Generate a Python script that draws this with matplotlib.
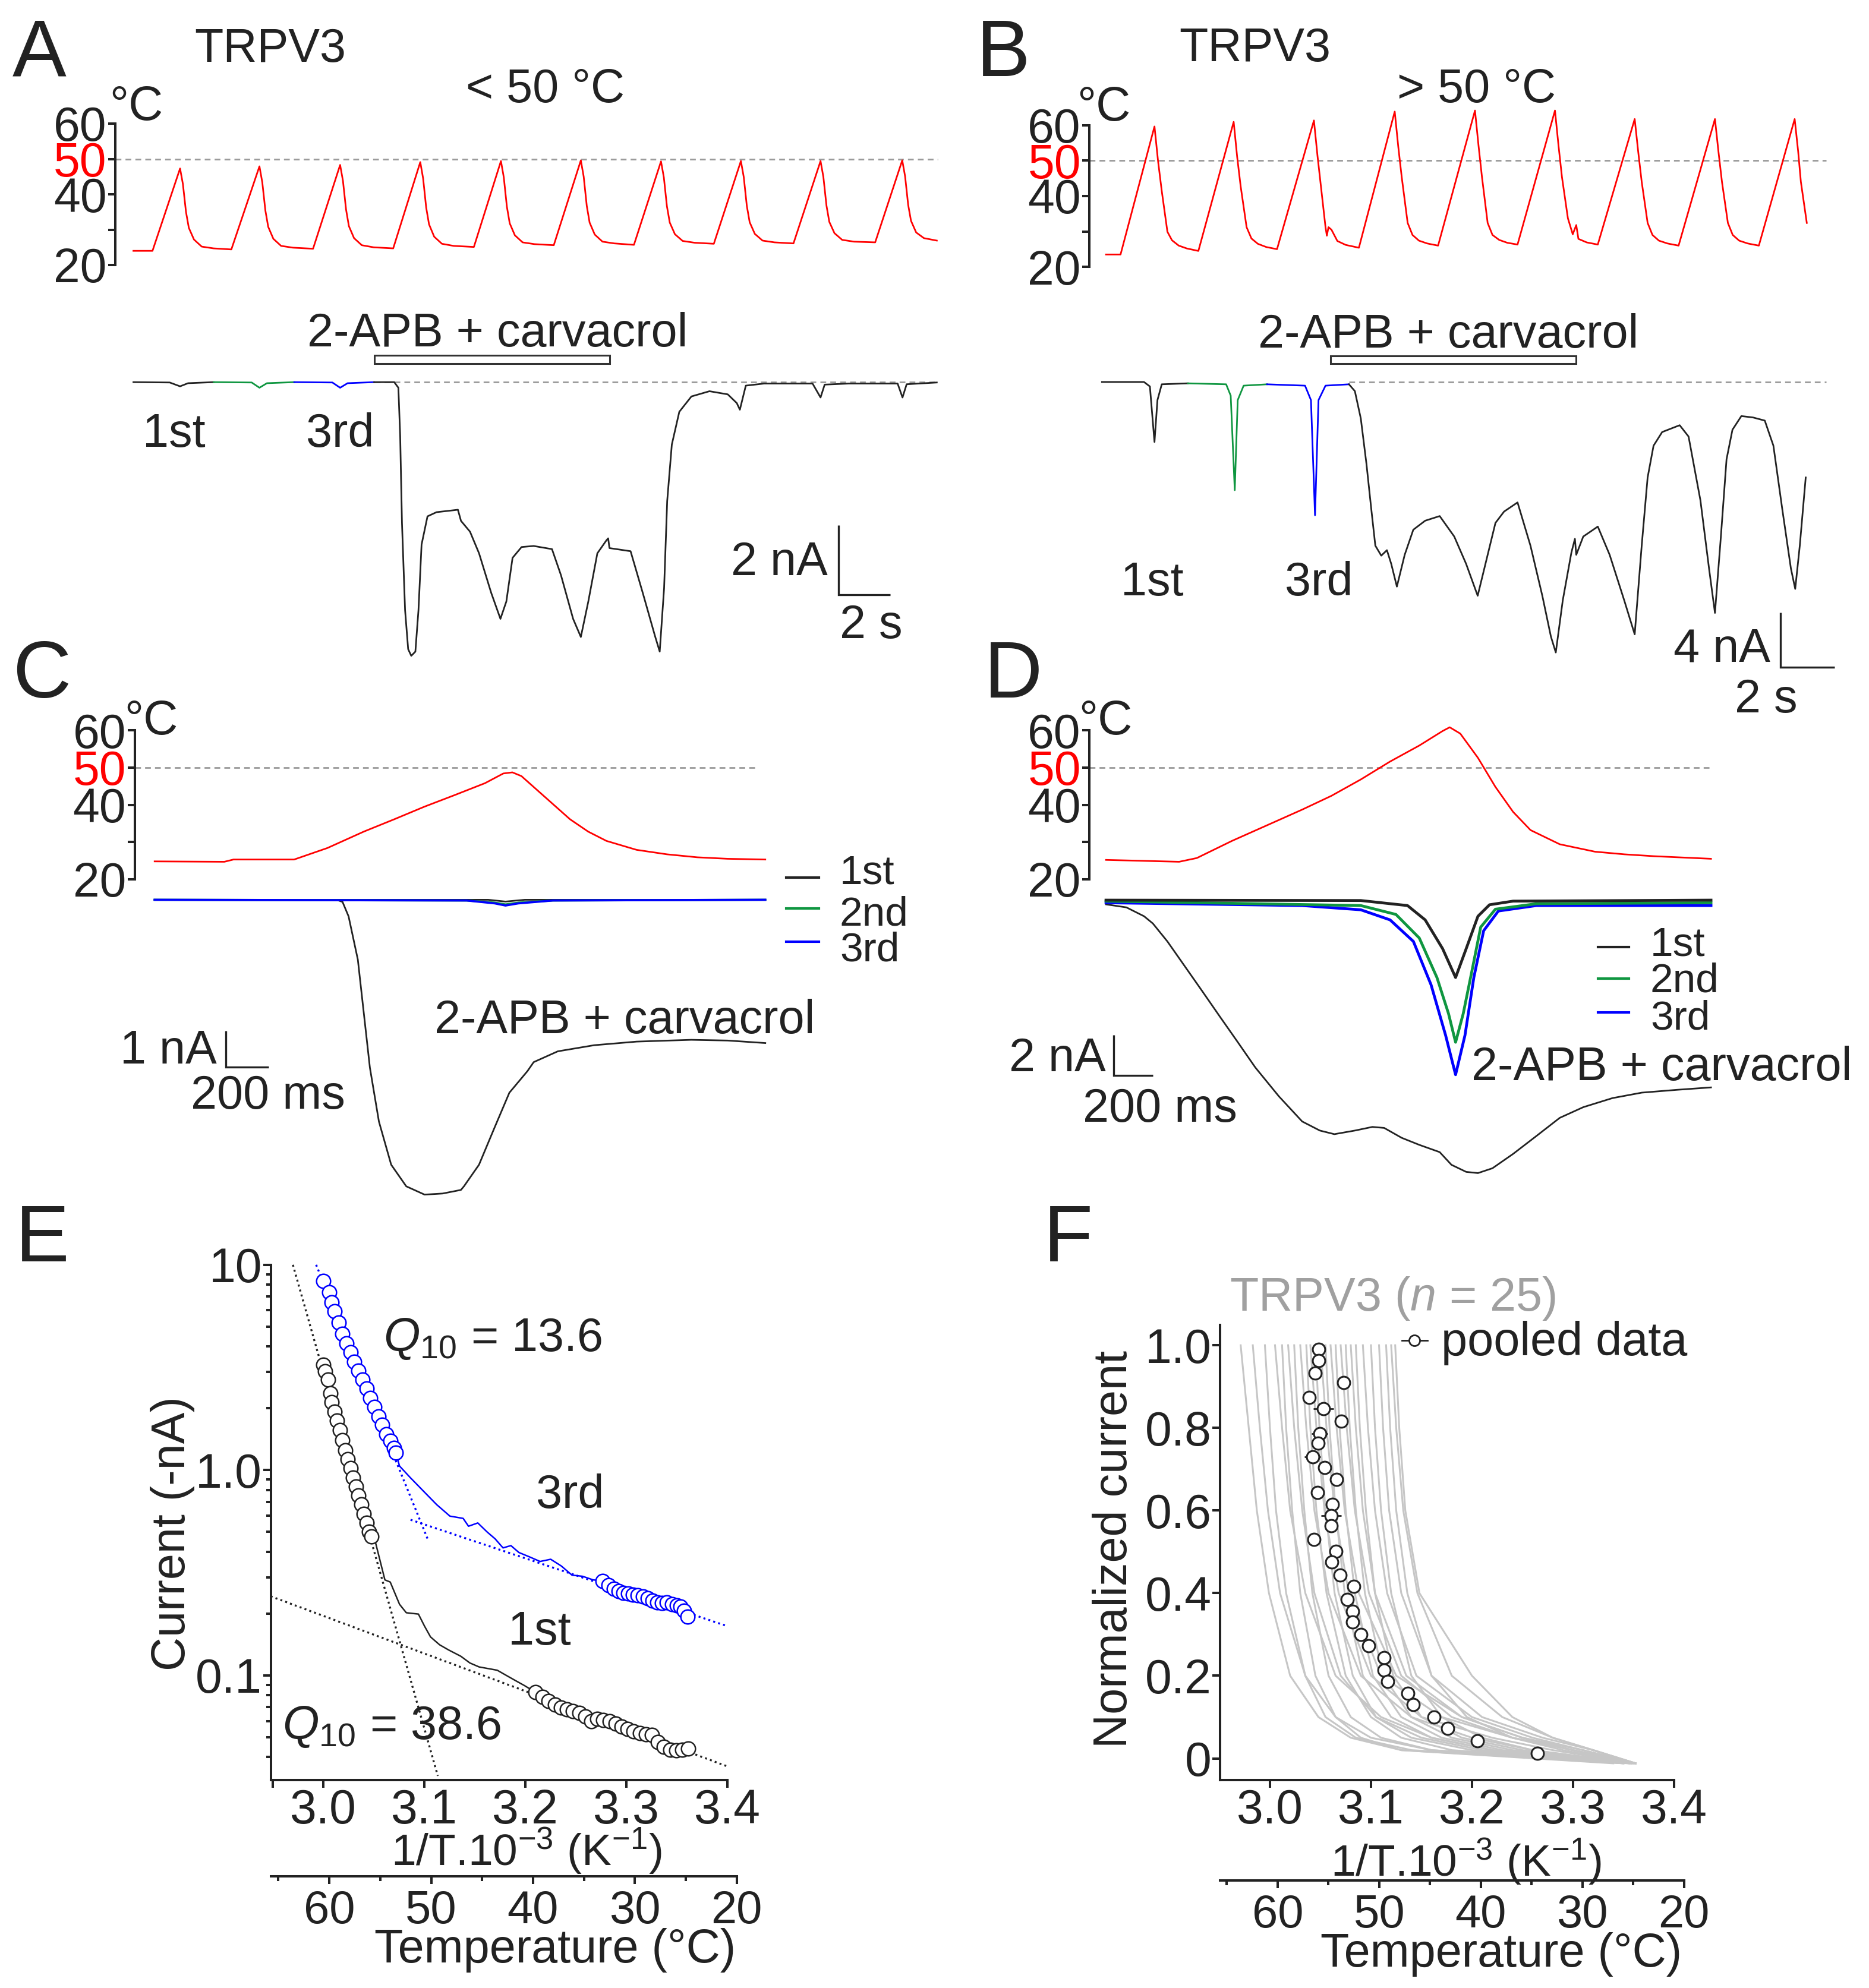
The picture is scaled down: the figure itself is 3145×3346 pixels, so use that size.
import numpy as np
import matplotlib
matplotlib.use("Agg")
import matplotlib.pyplot as plt
from matplotlib.patches import Rectangle
from matplotlib.lines import Line2D
from matplotlib.ticker import LogLocator, NullFormatter, FixedLocator

plt.rcParams['font.family'] = ['Liberation Sans', 'DejaVu Sans']
plt.rcParams['mathtext.fontset'] = 'custom'
plt.rcParams['mathtext.rm'] = 'Liberation Sans'
plt.rcParams['mathtext.it'] = 'Liberation Sans:italic'
plt.rcParams['mathtext.bf'] = 'Liberation Sans:bold'
plt.rcParams['axes.unicode_minus'] = False

# ======================= DATA =======================
# ---- Panel A (time s, temperature degC, current nA) ----
A_temp_t = [0.00, 0.74, 1.81, 1.92, 2.04, 2.15, 2.35, 2.65, 3.11, 3.80,
            4.89, 5.00, 5.12, 5.23, 5.43, 5.73, 6.19, 6.97,
            8.02, 8.13, 8.25, 8.36, 8.56, 8.86, 9.32, 10.08,
            11.13, 11.24, 11.36, 11.47, 11.67, 11.97, 12.43, 13.21,
            14.26, 14.37, 14.49, 14.60, 14.80, 15.10, 15.56, 16.31,
            17.36, 17.47, 17.59, 17.70, 17.90, 18.20, 18.66, 19.42,
            20.47, 20.58, 20.70, 20.81, 21.01, 21.31, 21.77, 22.52,
            23.57, 23.68, 23.80, 23.91, 24.11, 24.41, 24.87, 25.61,
            26.66, 26.77, 26.89, 27.00, 27.20, 27.50, 27.96, 28.78,
            29.83, 29.94, 30.06, 30.17, 30.37, 30.67, 31.17]
A_temp_v = [24.0, 24.0, 47.3, 42.9, 35.0, 30.5, 27.2, 25.2, 24.7, 24.4,
            47.9, 43.4, 35.4, 30.8, 27.4, 25.4, 24.9, 24.6,
            48.3, 43.8, 35.7, 31.0, 27.6, 25.6, 25.0, 24.7,
            49.1, 44.5, 36.2, 31.5, 28.0, 26.0, 25.4, 25.1,
            49.4, 44.8, 36.5, 31.8, 28.4, 26.4, 25.9, 25.6,
            49.6, 45.0, 36.7, 32.0, 28.6, 26.6, 26.1, 25.7,
            49.3, 44.8, 36.6, 32.0, 28.7, 26.8, 26.3, 26.0,
            49.4, 44.9, 36.7, 32.1, 28.8, 26.9, 26.4, 26.1,
            49.4, 44.9, 36.8, 32.2, 29.0, 27.1, 26.6, 26.4,
            49.6, 45.1, 37.0, 32.5, 29.2, 27.6, 26.9]
A_cur_1st_t = [0.00, 1.41, 1.81, 2.12, 3.11]
A_cur_1st_v = [0.00, -0.01, -0.12, -0.03, 0.00]
A_cur_2nd_t = [3.11, 4.59, 4.89, 5.18, 6.24]
A_cur_2nd_v = [0.00, -0.01, -0.16, -0.03, 0.00]
A_cur_3rd_t = [6.24, 7.72, 8.02, 8.31, 9.34]
A_cur_3rd_v = [0.00, -0.01, -0.16, -0.03, 0.00]
A_cur_drug_t = [9.34, 10.12, 10.28, 10.35, 10.42, 10.54, 10.66, 10.78, 10.94, 11.06,
                11.18, 11.41, 11.76, 12.24, 12.59, 12.71, 13.06, 13.41, 13.88, 14.24,
                14.47, 14.71, 15.06, 15.53, 16.24, 16.59, 17.06, 17.36, 17.65, 18.00,
                18.35, 18.42, 18.47, 19.29, 19.76, 20.24, 20.42, 20.59, 20.71, 20.89,
                21.18, 21.65, 22.35, 23.06, 23.41, 23.53, 23.76, 24.47, 26.35, 26.66,
                26.82, 27.76, 29.65, 29.84, 30.00, 31.17]
A_cur_drug_v = [0.00, 0.00, -0.16, -1.54, -4.04, -6.54, -7.66, -7.85, -7.73, -6.54,
                -4.66, -3.85, -3.73, -3.69, -3.66, -3.98, -4.29, -4.91, -6.04, -6.79,
                -6.29, -5.04, -4.73, -4.70, -4.79, -5.54, -6.79, -7.31, -6.29, -4.91,
                -4.54, -4.48, -4.76, -4.85, -6.04, -7.29, -7.73, -5.91, -3.41, -1.79,
                -0.85, -0.41, -0.26, -0.35, -0.60, -0.79, -0.10, -0.04, -0.04, -0.44,
                -0.07, -0.04, -0.04, -0.44, -0.06, -0.01]
A_drug = (9.36, 18.47)

# ---- Panel B ----
B_temp_t = [0.00, 0.54, 1.80, 1.93, 2.07, 2.28, 2.45, 2.70, 3.00, 3.43,
            4.74, 4.87, 5.00, 5.22, 5.40, 5.64, 5.95, 6.35,
            7.72, 7.85, 7.98, 8.15, 8.20, 8.26, 8.37, 8.59, 8.90, 9.39,
            10.72, 10.85, 10.98, 11.20, 11.38, 11.62, 11.93, 12.33,
            13.70, 13.83, 13.96, 14.17, 14.35, 14.60, 14.90, 15.28,
            16.67, 16.80, 16.93, 17.15, 17.33, 17.46, 17.54, 17.85, 18.26,
            19.63, 19.76, 19.89, 20.11, 20.29, 20.53, 20.85, 21.26,
            22.61, 22.74, 22.87, 23.09, 23.27, 23.51, 23.83, 24.24,
            25.57, 25.70, 25.80, 26.02]
B_temp_v = [23.5, 23.5, 59.6, 50.0, 41.4, 29.9, 27.5, 26.0, 25.2, 24.5,
            60.9, 51.0, 42.7, 31.2, 28.0, 26.5, 25.6, 25.0,
            61.3, 51.5, 42.7, 31.2, 28.8, 31.2, 30.5, 27.3, 26.2, 25.4,
            63.8, 54.0, 45.3, 32.4, 29.0, 27.4, 26.6, 26.0,
            64.1, 54.3, 45.3, 32.4, 29.0, 27.6, 26.8, 26.3,
            64.1, 54.3, 45.3, 33.7, 29.2, 31.8, 27.9, 26.9, 26.3,
            61.7, 52.5, 44.0, 32.4, 29.0, 27.4, 26.6, 26.0,
            61.7, 52.5, 44.0, 32.4, 29.0, 27.4, 26.6, 26.0,
            61.7, 52.5, 44.0, 32.4]
B_cur_1st_t = [-0.15, 1.41, 1.63, 1.80, 1.91, 2.07, 3.04]
B_cur_1st_v = [0.00, 0.00, -0.33, -4.40, -1.33, -0.17, -0.10]
B_cur_2nd_t = [3.04, 4.46, 4.63, 4.78, 4.89, 5.11, 5.98]
B_cur_2nd_v = [-0.10, -0.17, -1.00, -7.93, -1.33, -0.27, -0.17]
B_cur_3rd_t = [5.98, 7.39, 7.61, 7.76, 7.89, 8.15, 9.02]
B_cur_3rd_v = [-0.17, -0.27, -1.33, -9.77, -1.33, -0.27, -0.17]
B_cur_drug_t = [9.02, 9.24, 9.46, 9.67, 9.85, 10.00, 10.22, 10.43, 10.59, 10.80,
                11.09, 11.41, 11.85, 12.39, 12.93, 13.37, 13.80, 14.13, 14.46, 14.78, 15.28,
                15.76, 16.20, 16.52, 16.70, 16.96, 17.28, 17.41, 17.46, 17.72, 18.26,
                18.70, 19.24, 19.63, 19.89, 20.11, 20.33, 20.65, 21.30, 21.63, 22.07,
                22.39, 22.61, 22.83, 23.04, 23.26, 23.59, 24.02, 24.46, 24.78, 25.11,
                25.43, 25.59, 25.76, 25.98]
B_cur_drug_v = [-0.17, -0.67, -2.67, -6.00, -9.33, -12.00, -12.73, -12.33, -13.33, -15.00,
                -12.67, -10.83, -10.17, -9.83, -11.33, -13.33, -15.67, -13.00, -10.33, -9.50, -8.83,
                -12.00, -15.67, -18.67, -19.83, -16.00, -12.50, -11.50, -12.67, -11.33, -10.60,
                -12.67, -16.00, -18.50, -12.00, -7.00, -4.67, -3.67, -3.17, -4.00, -8.67,
                -13.67, -16.93, -11.33, -5.67, -3.50, -2.50, -2.60, -2.83, -4.67, -9.33,
                -13.67, -15.17, -12.00, -7.00]
B_drug = (8.33, 17.46)

# ---- Panel C ----
C_temp_t = [0.000, 0.324, 0.366, 0.648, 0.803, 0.972, 1.113, 1.254, 1.394, 1.535, 1.620,
            1.662, 1.704, 1.817, 1.930, 2.014, 2.099, 2.239, 2.380, 2.521, 2.662, 2.837]
C_temp_v = [24.8, 24.7, 25.3, 25.3, 28.4, 32.8, 36.1, 39.5, 42.6, 45.8, 48.4,
            48.7, 47.7, 41.9, 36.1, 32.8, 30.3, 27.9, 26.7, 25.9, 25.5, 25.3]
C_cur_1st_t = [0.00, 1.55, 1.63, 1.72, 2.837]
C_cur_1st_v = [0.00, 0.00, -0.05, 0.00, 0.00]
C_cur_2nd_t = [0.00, 1.45, 1.58, 1.63, 1.69, 1.85, 2.837]
C_cur_2nd_v = [0.00, -0.02, -0.08, -0.13, -0.08, -0.02, 0.00]
C_cur_3rd_t = [0.00, 1.45, 1.58, 1.63, 1.69, 1.85, 2.837]
C_cur_3rd_v = [0.00, -0.02, -0.10, -0.16, -0.10, -0.02, 0.00]
C_cur_drug_t = [0.000, 0.845, 0.873, 0.901, 0.944, 0.972, 1.000, 1.042, 1.099, 1.169, 1.254,
                1.338, 1.423, 1.437, 1.507, 1.577, 1.648, 1.732, 1.761, 1.873, 2.042,
                2.239, 2.493, 2.662, 2.837]
C_cur_drug_v = [0.00, 0.00, -0.06, -0.46, -1.66, -3.16, -4.66, -6.16, -7.36, -7.96, -8.19,
                -8.16, -8.06, -7.96, -7.36, -6.36, -5.36, -4.76, -4.51, -4.21, -4.04,
                -3.94, -3.89, -3.91, -3.98]

# ---- Panel D ----
D_temp_t = [0.000, 0.373, 0.463, 0.642, 0.851, 1.000, 1.149, 1.299, 1.448, 1.597, 1.716,
            1.752, 1.806, 1.896, 1.985, 2.075, 2.164, 2.313, 2.493, 2.642, 2.791, 3.084]
D_temp_v = [25.2, 24.7, 25.7, 30.3, 35.2, 38.7, 42.4, 46.8, 51.6, 55.9, 59.8,
            60.8, 59.1, 52.6, 44.8, 38.1, 33.2, 29.4, 27.4, 26.7, 26.2, 25.5]
D_cur_1st_t = [0.000, 1.299, 1.537, 1.627, 1.716, 1.782, 1.836, 1.896, 1.955, 2.075, 3.084]
D_cur_1st_v = [0.00, -0.02, -0.27, -0.98, -2.41, -3.84, -2.41, -0.80, -0.23, -0.05, 0.00]
D_cur_2nd_t = [0.000, 1.299, 1.478, 1.597, 1.687, 1.746, 1.782, 1.821, 1.866, 1.910, 1.985, 2.194, 3.084]
D_cur_2nd_v = [-0.05, -0.27, -0.71, -1.88, -3.84, -5.63, -7.05, -5.63, -3.48, -1.34, -0.45, -0.18, -0.13]
D_cur_3rd_t = [0.000, 1.000, 1.299, 1.448, 1.567, 1.657, 1.731, 1.782, 1.830, 1.875, 1.925, 2.000, 2.194, 3.084]
D_cur_3rd_v = [-0.13, -0.27, -0.48, -0.98, -2.05, -4.20, -6.70, -8.66, -6.70, -3.84, -1.52, -0.54, -0.27, -0.27]
D_cur_drug_t = [0.000, 0.104, 0.194, 0.239, 0.313, 0.403, 0.493, 0.582, 0.672, 0.761,
                0.881, 1.000, 1.090, 1.164, 1.269, 1.358, 1.418, 1.507, 1.597, 1.701,
                1.761, 1.836, 1.896, 1.970, 2.075, 2.194, 2.313, 2.433, 2.582, 2.731,
                2.910, 3.084]
D_cur_drug_v = [-0.21, -0.36, -0.80, -1.16, -2.05, -3.30, -4.55, -5.80, -7.05, -8.30,
                -9.73, -10.98, -11.43, -11.61, -11.43, -11.25, -11.30, -11.79, -12.14, -12.50,
                -13.13, -13.48, -13.54, -13.30, -12.59, -11.70, -10.80, -10.27, -9.82, -9.55,
                -9.41, -9.29]

# ---- Panel E (x = 1/T*10^3, y = -current nA) ----
E_1st_hot_x = [3.0000, 3.0020, 3.0046, 3.0073, 3.0086, 3.0112, 3.0139, 3.0165, 3.0191, 3.0217,
               3.0244, 3.0270, 3.0296, 3.0323, 3.0348, 3.0375, 3.0401, 3.0428, 3.0453, 3.0480]
E_1st_hot_y = [3.26, 3.02, 2.76, 2.37, 2.14, 1.93, 1.74, 1.57, 1.40, 1.25,
               1.13, 1.02, 0.921, 0.832, 0.751, 0.679, 0.613, 0.553, 0.500, 0.475]
E_1st_mid_x = [3.0480, 3.0520, 3.0611, 3.0664, 3.0756, 3.0823, 3.0943, 3.1003, 3.1063, 3.1153,
               3.1243, 3.1363, 3.1453, 3.1544, 3.1634, 3.1724, 3.1814, 3.1904, 3.1994, 3.2102]
E_1st_mid_y = [0.475, 0.440, 0.292, 0.285, 0.222, 0.202, 0.199, 0.174, 0.154, 0.141,
               0.133, 0.124, 0.115, 0.110, 0.108, 0.106, 0.100, 0.0944, 0.0892, 0.0828]
E_1st_cold_x = [3.2102, 3.2174, 3.2234, 3.2294, 3.2354, 3.2414, 3.2474, 3.2535, 3.2595, 3.2655,
                3.2715, 3.2775, 3.2835, 3.2895, 3.2955, 3.3015, 3.3075, 3.3135, 3.3195, 3.3255,
                3.3315, 3.3375, 3.3435, 3.3495, 3.3556, 3.3616]
E_1st_cold_y = [0.0828, 0.0786, 0.0751, 0.0722, 0.0697, 0.0682, 0.0670, 0.0659, 0.0633, 0.0598,
                0.0615, 0.0608, 0.0598, 0.0581, 0.0564, 0.0548, 0.0536, 0.0524, 0.0518, 0.0512,
                0.0475, 0.0449, 0.0436, 0.0431, 0.0436, 0.0441]
E_3rd_hot_x = [3.0000, 3.0060, 3.0086, 3.0112, 3.0151, 3.0191, 3.0231, 3.0270, 3.0309, 3.0348,
               3.0388, 3.0428, 3.0467, 3.0506, 3.0546, 3.0585, 3.0625, 3.0664, 3.0703, 3.0717]
E_3rd_hot_y = [8.37, 7.37, 6.57, 5.93, 5.22, 4.60, 4.15, 3.75, 3.38, 3.06,
               2.76, 2.49, 2.25, 2.03, 1.83, 1.66, 1.50, 1.39, 1.28, 1.22]
E_3rd_mid_x = [3.0717, 3.0756, 3.0861, 3.0992, 3.1124, 3.1255, 3.1386, 3.1439, 3.1531, 3.1623, 3.1702,
               3.1781, 3.1859, 3.1938, 3.2043, 3.2148, 3.2253, 3.2359, 3.2464, 3.2569, 3.2674, 3.2766]
E_3rd_mid_y = [1.22, 1.047, 0.921, 0.791, 0.679, 0.597, 0.582, 0.533, 0.553, 0.500, 0.463,
               0.418, 0.429, 0.397, 0.378, 0.359, 0.368, 0.341, 0.308, 0.304, 0.292, 0.289]
E_3rd_cold_x = [3.2766, 3.2823, 3.2877, 3.2925, 3.2973, 3.3021, 3.3069, 3.3117, 3.3165, 3.3213,
                3.3261, 3.3309, 3.3357, 3.3405, 3.3453, 3.3502, 3.3538, 3.3574, 3.3610]
E_3rd_cold_y = [0.288, 0.275, 0.265, 0.257, 0.253, 0.250, 0.247, 0.245, 0.243, 0.238,
                0.232, 0.227, 0.225, 0.227, 0.223, 0.220, 0.216, 0.207, 0.193]
E_fit_1st_steep = ([2.970, 3.1135], [10.0, 0.0324])
E_fit_1st_shallow = ([2.948, 3.400], [0.243, 0.0361])
E_fit_3rd_steep = ([2.993, 3.104], [10.0, 0.455])
E_fit_3rd_shallow = ([3.0865, 3.400], [0.573, 0.174])

# ---- Panel F ----
F_levels = [1.0, 0.8, 0.6, 0.4, 0.2, 0.1, 0.05, 0.02, -0.012]
F_cells = [
    [2.971, 2.979, 2.987, 2.999, 3.020, 3.048, 3.080, 3.130, 3.355],
    [2.983, 2.990, 2.998, 3.010, 3.035, 3.065, 3.100, 3.160, 3.360],
    [2.995, 3.000, 3.006, 3.016, 3.035, 3.055, 3.085, 3.140, 3.350],
    [3.005, 3.012, 3.020, 3.035, 3.065, 3.110, 3.160, 3.220, 3.362],
    [3.012, 3.016, 3.022, 3.030, 3.045, 3.065, 3.090, 3.130, 3.340],
    [3.018, 3.024, 3.032, 3.044, 3.070, 3.105, 3.150, 3.210, 3.360],
    [3.024, 3.028, 3.034, 3.042, 3.058, 3.080, 3.110, 3.160, 3.350],
    [3.030, 3.036, 3.044, 3.058, 3.090, 3.140, 3.200, 3.260, 3.362],
    [3.036, 3.040, 3.046, 3.056, 3.075, 3.100, 3.130, 3.180, 3.358],
    [3.040, 3.046, 3.054, 3.068, 3.100, 3.150, 3.220, 3.280, 3.362],
    [3.045, 3.049, 3.055, 3.064, 3.082, 3.105, 3.140, 3.200, 3.350],
    [3.050, 3.056, 3.064, 3.078, 3.110, 3.170, 3.240, 3.300, 3.362],
    [3.055, 3.059, 3.065, 3.074, 3.092, 3.120, 3.160, 3.220, 3.358],
    [3.060, 3.066, 3.074, 3.088, 3.125, 3.190, 3.250, 3.300, 3.362],
    [3.065, 3.069, 3.075, 3.084, 3.102, 3.130, 3.170, 3.230, 3.356],
    [3.070, 3.076, 3.084, 3.098, 3.130, 3.180, 3.240, 3.300, 3.362],
    [3.075, 3.079, 3.085, 3.094, 3.112, 3.140, 3.180, 3.240, 3.358],
    [3.080, 3.085, 3.092, 3.104, 3.135, 3.190, 3.250, 3.310, 3.362],
    [3.085, 3.089, 3.095, 3.104, 3.122, 3.150, 3.190, 3.250, 3.356],
    [3.092, 3.097, 3.104, 3.116, 3.145, 3.200, 3.260, 3.310, 3.362],
    [3.100, 3.104, 3.110, 3.120, 3.140, 3.170, 3.210, 3.260, 3.358],
    [3.108, 3.112, 3.118, 3.130, 3.160, 3.210, 3.270, 3.320, 3.362],
    [3.115, 3.119, 3.125, 3.136, 3.160, 3.195, 3.240, 3.290, 3.360],
    [3.120, 3.125, 3.132, 3.146, 3.180, 3.230, 3.280, 3.320, 3.362],
    [3.124, 3.128, 3.134, 3.148, 3.200, 3.240, 3.280, 3.320, 3.362],
]
F_pool_x = [3.0481, 3.0481, 3.0446, 3.0730, 3.0388, 3.0528, 3.0707, 3.0493, 3.0475, 3.0423,
            3.0539, 3.0661, 3.0470, 3.0620, 3.0609, 3.0609, 3.0435, 3.0655, 3.0614, 3.0696,
            3.0829, 3.0765, 3.0817, 3.0817, 3.0899, 3.0974, 3.1130, 3.1130, 3.1165, 3.1368,
            3.1420, 3.1623, 3.1762, 3.2052, 3.2649]
F_pool_y = [0.990, 0.963, 0.932, 0.909, 0.873, 0.847, 0.816, 0.786, 0.763, 0.730,
            0.704, 0.675, 0.643, 0.615, 0.588, 0.563, 0.530, 0.501, 0.475, 0.444,
            0.416, 0.385, 0.356, 0.330, 0.300, 0.272, 0.244, 0.214, 0.186, 0.158,
            0.130, 0.100, 0.072, 0.043, 0.012]
F_pool_xerr = [0.003, 0.003, 0.004, 0.003, 0.005, 0.010, 0.003, 0.008, 0.006, 0.008,
               0.006, 0.003, 0.006, 0.005, 0.010, 0.005, 0.003, 0.004, 0.004, 0.004,
               0.003, 0.003, 0.003, 0.003, 0.003, 0.003, 0.003, 0.003, 0.003, 0.003,
               0.003, 0.003, 0.003, 0.003, 0.003]

# ======================= STYLE / LAYOUT =======================
W, H = 3145, 3346
fig = plt.figure(figsize=(W / 100, H / 100), dpi=100)
fig.patch.set_facecolor('white')

TXT = '#222222'
RED = '#ff0000'
GREEN = '#0f9640'
BLUE = '#0000ff'
DASH = '#9a9a9a'
GREYF = '#c6c6c6'
FS = 57
FS_TICK = 58
FS_LEG = 50
FS_LET = 98
FS_XLAB = 54
LW_AX = 2.9
LW_TR = 2.0
LW_SB = 2.4


def add_axes_px(l, t, r, b):
    return fig.add_axes([l / W, 1 - b / H, (r - l) / W, (b - t) / H])


def ftext(x, y, s, size=FS, ha='left', va='baseline', color=TXT, **kw):
    return fig.text(x / W, 1 - y / H, s, size=size, ha=ha, va=va, color=color, **kw)


def fline(xs, ys, **kw):
    fig.add_artist(Line2D([x / W for x in xs], [1 - y / H for y in ys],
                          transform=fig.transFigure, **kw))


def lin_axes(x0, xs, xlim, yref_px, ys, yref, ylim):
    l = x0 + xs * xlim[0]
    r = x0 + xs * xlim[1]
    t = yref_px - ys * (ylim[1] - yref)
    b = yref_px - ys * (ylim[0] - yref)
    ax = add_axes_px(l, t, r, b)
    ax.set_xlim(xlim)
    ax.set_ylim(ylim)
    ax.patch.set_visible(False)
    return ax


def temp_axes(x0, xs, xlim, y20, ys, ylim, t, v, dash_end):
    ax = lin_axes(x0, xs, xlim, y20, ys, 20, ylim)
    for s in ('top', 'right', 'bottom'):
        ax.spines[s].set_visible(False)
    ax.spines['left'].set_bounds(20, 60)
    ax.spines['left'].set_linewidth(LW_AX)
    ax.spines['left'].set_color(TXT)
    ax.set_xticks([])
    ax.set_yticks([20, 30, 40, 50, 60])
    ax.set_yticklabels(['20', '', '40', '50', '60'])
    ax.tick_params(axis='y', direction='out', length=9, width=LW_AX, labelsize=FS_TICK,
                   pad=1.5, colors=TXT)
    ax.get_yticklabels()[3].set_color(RED)
    ax.plot([xlim[0], dash_end], [50, 50], color=DASH, lw=2.0, dashes=(3.5, 2.5))
    ax.plot(t, v, color=RED, lw=LW_TR, clip_on=False)
    return ax


def cur_axes(x0, xs, xlim, i0, is_, ylim):
    ax = lin_axes(x0, xs, xlim, i0, is_, 0, ylim)
    ax.axis('off')
    return ax


def scalebar(ax, t, i_top, i_bot, dt):
    ax.plot([t, t, t + dt], [i_top, i_bot, i_bot], color=TXT, lw=LW_SB, clip_on=False,
            solid_joinstyle='miter', solid_capstyle='butt')


# ======================= PANEL A =======================
A_X0, A_XS, A_XLIM = 224.5, 43.37, (-0.70, 31.3)
temp_axes(A_X0, A_XS, A_XLIM, 446.0, 5.95, (20, 60), A_temp_t, A_temp_v, 31.2)
axAc = cur_axes(A_X0, A_XS, A_XLIM, 643.2, 58.67, (-8.2, 0.9))
axAc.plot([9.34, 31.2], [0, 0], color=DASH, lw=2.0, dashes=(3.5, 2.5))
axAc.plot(A_cur_1st_t, A_cur_1st_v, color=TXT, lw=LW_TR)
axAc.plot(A_cur_2nd_t, A_cur_2nd_v, color=GREEN, lw=LW_TR)
axAc.plot(A_cur_3rd_t, A_cur_3rd_v, color=BLUE, lw=LW_TR)
axAc.plot(A_cur_drug_t, A_cur_drug_v, color=TXT, lw=LW_TR)
axAc.add_patch(Rectangle((A_drug[0], 0.53), A_drug[1] - A_drug[0], 0.24, fc='white',
                         ec='#333333', lw=2.2, clip_on=False))
scalebar(axAc, 27.36, -4.1, -6.1, 2.0)

ftext(21, 128, 'A', size=FS_LET)
ftext(327, 104, 'TRPV3')
ftext(784, 172, '< 50 °C')
ftext(184, 202, '°C', size=FS_TICK)
ftext(837, 583, '2-APB + carvacrol', ha='center')
ftext(240, 752, '1st')
ftext(515, 752, '3rd')
ftext(1393, 968, '2 nA', ha='right')
ftext(1413, 1074, '2 s')

# ======================= PANEL B =======================
B_X0, B_XS, B_XLIM = 1861.1, 45.32, (-0.61, 26.8)
temp_axes(B_X0, B_XS, B_XLIM, 449.2, 5.9675, (20, 66), B_temp_t, B_temp_v, 26.74)
axBc = cur_axes(B_X0, B_XS, B_XLIM, 642.9, 22.96, (-21.5, 2.2))
axBc.plot([9.02, 26.74], [0, 0], color=DASH, lw=2.0, dashes=(3.5, 2.5))
axBc.plot(B_cur_1st_t, B_cur_1st_v, color=TXT, lw=LW_TR)
axBc.plot(B_cur_2nd_t, B_cur_2nd_v, color=GREEN, lw=LW_TR)
axBc.plot(B_cur_3rd_t, B_cur_3rd_v, color=BLUE, lw=LW_TR)
axBc.plot(B_cur_drug_t, B_cur_drug_v, color=TXT, lw=LW_TR)
axBc.add_patch(Rectangle((B_drug[0], 1.33), B_drug[1] - B_drug[0], 0.60, fc='white',
                         ec='#333333', lw=2.2, clip_on=False))
scalebar(axBc, 25.05, -16.9, -20.9, 2.0)

ftext(1643, 128, 'B', size=FS_LET)
ftext(1984, 103, 'TRPV3')
ftext(2351, 172, '> 50 °C')
ftext(1812, 203, '°C', size=FS_TICK)
ftext(2437, 585, '2-APB + carvacrol', ha='center')
ftext(1886, 1002, '1st')
ftext(2162, 1002, '3rd')
ftext(2979, 1113, '4 nA', ha='right')
ftext(2919, 1199, '2 s')

# ======================= PANEL C =======================
C_X0, C_XS, C_XLIM = 260.2, 362.2, (-0.093, 2.86)
temp_axes(C_X0, C_XS, C_XLIM, 1479.9, 6.27, (20, 60), C_temp_t, C_temp_v, 2.80)
axCc = cur_axes(C_X0, C_XS, C_XLIM, 1514.4, 60.59, (-8.6, 0.4))
axCc.plot(C_cur_drug_t, C_cur_drug_v, color=TXT, lw=LW_TR)
axCc.plot(C_cur_1st_t, C_cur_1st_v, color=TXT, lw=LW_TR)
axCc.plot(C_cur_2nd_t, C_cur_2nd_v, color=GREEN, lw=LW_TR + 0.6)
axCc.plot(C_cur_3rd_t, C_cur_3rd_v, color=BLUE, lw=LW_TR + 0.6)
scalebar(axCc, 0.33, -3.64, -4.64, 0.2)

ftext(21, 1174, 'C', size=FS_LET)
ftext(209, 1236, '°C', size=FS_TICK)
ftext(1051, 1739, '2-APB + carvacrol', ha='center')
ftext(365, 1790, '1 nA', ha='right')
ftext(321, 1866, '200 ms')
for yl, yt, lab, col in [(1477, 1488, '1st', TXT), (1529, 1557, '2nd', GREEN),
                         (1585, 1618, '3rd', BLUE)]:
    fline([1323, 1378], [yl, yl], color=col, lw=3.0)
    ftext(1413, yt, lab, size=FS_LEG)

# ======================= PANEL D =======================
D_X0, D_XS, D_XLIM = 1861.1, 330.1, (-0.084, 3.1)
temp_axes(D_X0, D_XS, D_XLIM, 1479.9, 6.27, (20, 62), D_temp_t, D_temp_v, 3.084)
axDc = cur_axes(D_X0, D_XS, D_XLIM, 1515.0, 33.93, (-14.2, 0.4))
axDc.plot(D_cur_drug_t, D_cur_drug_v, color=TXT, lw=LW_TR)
axDc.plot(D_cur_3rd_t, D_cur_3rd_v, color=BLUE, lw=LW_TR + 1.4)
axDc.plot(D_cur_2nd_t, D_cur_2nd_v, color=GREEN, lw=LW_TR + 1.4)
axDc.plot(D_cur_1st_t, D_cur_1st_v, color=TXT, lw=LW_TR + 1.4)
scalebar(axDc, 0.039, -6.70, -8.70, 0.2)

ftext(1656, 1174, 'D', size=FS_LET)
ftext(1815, 1236, '°C', size=FS_TICK)
ftext(2796, 1818, '2-APB + carvacrol', ha='center')
ftext(1861, 1803, '2 nA', ha='right')
ftext(1822, 1888, '200 ms')
for yl, yt, lab, col in [(1594, 1609, '1st', TXT), (1647, 1669, '2nd', GREEN),
                         (1704, 1733, '3rd', BLUE)]:
    fline([2689, 2741], [yl, yl], color=col, lw=3.0)
    ftext(2777, yt, lab, size=FS_LEG)


# ======================= PANEL E =======================
def style_main(ax):
    for s in ('top', 'right'):
        ax.spines[s].set_visible(False)
    for s in ('left', 'bottom'):
        ax.spines[s].set_linewidth(LW_AX)
        ax.spines[s].set_color(TXT)
    ax.tick_params(which='both', direction='out', width=LW_AX, colors=TXT,
                   labelsize=FS_TICK)
    ax.tick_params(which='major', length=9.5, pad=1)
    ax.tick_params(which='minor', length=6)
    ax.patch.set_visible(False)


def temp_secondary(l, y, r, xlim):
    ax = add_axes_px(l, y - 1, r, y)
    ax.set_xlim(xlim)
    ax.set_ylim(0, 1)
    for s in ('top', 'right', 'left'):
        ax.spines[s].set_visible(False)
    ax.spines['bottom'].set_linewidth(LW_AX)
    ax.spines['bottom'].set_color(TXT)
    ax.set_yticks([])
    ax.set_xticks([60, 50, 40, 30, 20])
    ax.set_xticklabels(['60', '50', '40', '30', '20'])
    ax.xaxis.set_minor_locator(FixedLocator([65, 55, 45, 35, 25]))
    ax.tick_params(which='both', direction='out', width=LW_AX, colors=TXT, labelsize=FS_TICK - 2)
    ax.tick_params(which='major', length=9.5, pad=6)
    ax.tick_params(which='minor', length=6)
    ax.patch.set_visible(False)
    return ax


axE = add_axes_px(455.5, 2128.8, 1223.5, 2995.7)
axE.set_yscale('log')
axE.set_xlim(2.948, 3.4)
axE.set_ylim(0.031, 10)
style_main(axE)
axE.set_xticks([2.95, 3.0, 3.1, 3.2, 3.3, 3.4])
axE.set_xticklabels(['', '3.0', '3.1', '3.2', '3.3', '3.4'])
axE.set_yticks([0.1, 1.0, 10.0])
axE.set_yticklabels(['0.1', '1.0', '10'])
axE.yaxis.set_minor_locator(LogLocator(base=10, subs=np.arange(2, 10)))
axE.yaxis.set_minor_formatter(NullFormatter())

axE.plot(*E_fit_1st_steep, color=TXT, lw=2.4, dashes=(1.0, 1.6), clip_on=False)
axE.plot(*E_fit_1st_shallow, color=TXT, lw=2.4, dashes=(1.0, 1.6), clip_on=False)
axE.plot(*E_fit_3rd_steep, color=BLUE, lw=2.4, dashes=(1.0, 1.6), clip_on=False)
axE.plot(*E_fit_3rd_shallow, color=BLUE, lw=2.4, dashes=(1.0, 1.6), clip_on=False)

for col, hx, hy, mx, my, cx, cy in [
        (TXT, E_1st_hot_x, E_1st_hot_y, E_1st_mid_x, E_1st_mid_y, E_1st_cold_x, E_1st_cold_y),
        (BLUE, E_3rd_hot_x, E_3rd_hot_y, E_3rd_mid_x, E_3rd_mid_y, E_3rd_cold_x, E_3rd_cold_y)]:
    axE.plot(hx + mx + cx, hy + my + cy, color=col, lw=1.8)
    axE.plot(hx, hy, 'o', ms=17, mfc='white', mec=col, mew=1.8)
    axE.plot(cx, cy, 'o', ms=17, mfc='white', mec=col, mew=1.8)

temp_secondary(455.5, 3158, 1239.8, (65.75, 20))

ftext(26, 2123, 'E', size=FS_LET)
ftext(645, 2274, r'$\mathit{Q}_{10}$ = 13.6')
ftext(475, 2927, r'$\mathit{Q}_{10}$ = 38.6')
ftext(902, 2538, '3rd')
ftext(855, 2768, '1st')
ftext(291, 2581, 'Current (-nA)', ha='center', va='center', rotation=90)
ftext(886, 3140, r'1/T.10$^{-3}$ (K$^{-1}$)', ha='center', size=FS_XLAB)
ftext(934, 3303, 'Temperature (°C)', ha='center')

# ======================= PANEL F =======================
axF = add_axes_px(2053.2, 2230.1, 2816.8, 2995.7)
axF.set_xlim(2.9507, 3.4)
axF.set_ylim(-0.052, 1.049)
style_main(axF)
axF.set_xticks([3.0, 3.1, 3.2, 3.3, 3.4])
axF.set_xticklabels(['3.0', '3.1', '3.2', '3.3', '3.4'])
axF.set_yticks([0, 0.2, 0.4, 0.6, 0.8, 1.0])
axF.set_yticklabels(['0', '0.2', '0.4', '0.6', '0.8', '1.0'])
for row in F_cells:
    axF.plot(row, F_levels, color=GREYF, lw=2.2)
axF.errorbar(F_pool_x, F_pool_y, xerr=F_pool_xerr, fmt='o', ms=15, mfc='white', mec=TXT,
             mew=2.2, ecolor=TXT, elinewidth=2.0, capsize=0, zorder=5)

temp_secondary(2053.2, 3165, 2833.6, (65.65, 20))

ftext(1756, 2123, 'F', size=FS_LET)
ftext(2344, 2206, r'TRPV3 ($\mathit{n}$ = 25)', ha='center', color='#a0a0a0')
fline([2359, 2402], [2256, 2256], color=TXT, lw=2.0)
fig.add_artist(Line2D([2380 / W], [1 - 2256 / H], transform=fig.transFigure, marker='o',
                      ms=13, mfc='white', mec=TXT, mew=2.0, ls='none'))
ftext(2425, 2281, 'pooled data')
ftext(1876, 2607, 'Normalized current', ha='center', va='center', rotation=90)
ftext(2467, 3158, r'1/T.10$^{-3}$ (K$^{-1}$)', ha='center', size=FS_XLAB)
ftext(2526, 3310, 'Temperature (°C)', ha='center')

fig.savefig('out.png', dpi=100)
